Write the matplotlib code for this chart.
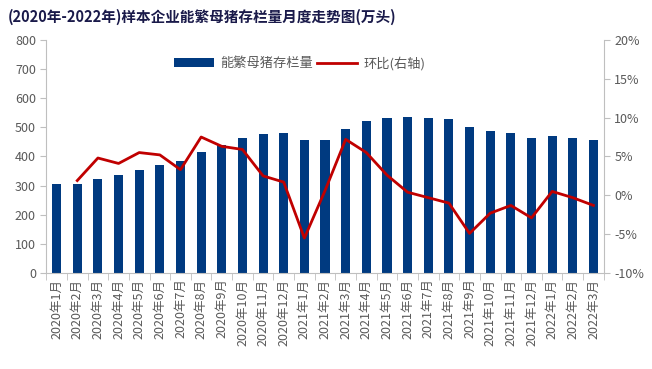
import numpy as np
import matplotlib
matplotlib.use('Agg')
from matplotlib import pyplot as plt
from matplotlib.ticker import FixedLocator

plt.rcParams['font.family'] = ['Noto Sans CJK SC', 'DejaVu Sans']

months = ['2020年1月', '2020年2月', '2020年3月', '2020年4月', '2020年5月', '2020年6月', '2020年7月',
          '2020年8月', '2020年9月', '2020年10月', '2020年11月', '2020年12月',
          '2021年1月', '2021年2月', '2021年3月', '2021年4月', '2021年5月', '2021年6月', '2021年7月',
          '2021年8月', '2021年9月', '2021年10月', '2021年11月', '2021年12月',
          '2022年1月', '2022年2月', '2022年3月']
stock = [304, 307, 324, 338, 355, 372, 386, 414, 438, 465, 476, 482,
         458, 458, 493, 520, 531, 534, 531, 527, 500, 486, 479, 465, 469, 465, 458]
mom = [np.nan, 1.9, 4.8, 4.1, 5.5, 5.2, 3.3, 7.5, 6.3, 5.9, 2.5, 1.7,
       -5.5, 0.6, 7.2, 5.5, 2.6, 0.4, -0.3, -1.0, -4.9, -2.3, -1.3, -2.9, 0.5, -0.3, -1.3]

grey = '#595959'
axc = '#bfbfbf'

fig = plt.figure(figsize=(6.52, 3.69), dpi=100)
ax = fig.add_axes([0.071, 0.26, 0.855, 0.632])
x = np.arange(len(months))
b = ax.bar(x, stock, width=0.44, color='#003a80', label='能繁母猪存栏量', zorder=2)
ax.set_ylim(0, 800)
ax.set_yticks(range(0, 801, 100))
ax.set_xlim(-0.5, len(months) - 0.5)
ax.set_xticks(x)
ax.set_xticklabels(months, rotation=90, fontsize=9, color=grey)
ax.xaxis.set_minor_locator(FixedLocator(np.arange(-0.5, len(months), 1)))
ax.tick_params(axis='x', which='major', length=0, pad=4)
ax.tick_params(axis='x', which='minor', length=5, color=axc, direction='out')
ax.tick_params(axis='y', labelsize=9, colors=grey, length=4, color=axc)
for s in ['top', 'right']:
    ax.spines[s].set_visible(False)
for s in ['left', 'bottom']:
    ax.spines[s].set_color(axc)

ax2 = ax.twinx()
l, = ax2.plot(x, mom, color='#c00000', lw=2, label='环比(右轴)', zorder=3)
ax2.set_ylim(-10, 20)
ax2.set_yticks(range(-10, 21, 5))
ax2.set_yticklabels([f'{v}%' for v in range(-10, 21, 5)])
ax2.tick_params(axis='y', labelsize=9, colors=grey, length=4, color=axc)
for s in ['top', 'left', 'bottom']:
    ax2.spines[s].set_visible(False)
ax2.spines['right'].set_color(axc)

leg = ax.legend([b, l], ['能繁母猪存栏量', '环比(右轴)'], loc='upper center', bbox_to_anchor=(0.455, 0.98),
                ncol=2, frameon=False, fontsize=9.5, handlelength=3, columnspacing=0.3, handletextpad=0.5)
for t in leg.get_texts():
    t.set_color(grey)

fig.text(0.012, 0.955, '(2020年-2022年)样本企业能繁母猪存栏量月度走势图(万头)', fontsize=10.5,
         fontweight='bold', color='#1a1a4a', va='center')

plt.savefig('out.png', dpi=100)
